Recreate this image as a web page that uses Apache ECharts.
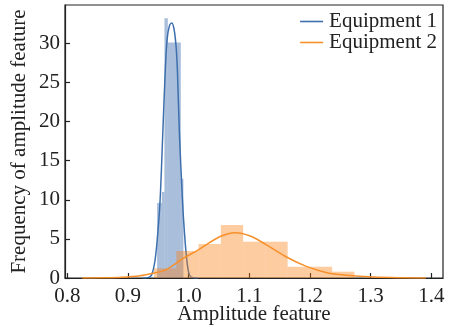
<!DOCTYPE html>
<html>
<head>
<meta charset="utf-8">
<script src="https://cdn.jsdelivr.net/npm/echarts@6/dist/echarts.min.js"></script>
<style>
  html, body { margin: 0; padding: 0; background: #fff; }
  #chart { width: 452px; height: 327px; }
</style>
</head>
<body>
<div id="chart"></div>
<script>
// Histogram bin edges and densities
const blueEdges = [0.9480, 0.9558, 0.9601, 0.9657, 0.9871, 0.9914];
const blueHeights = [9.6, 11.0, 33.2, 30.1, 12.7];
const orangeEdges = [0.943, 0.9797, 1.0164, 1.0531, 1.0898, 1.1265, 1.1632, 1.1999, 1.2366, 1.2733];
const orangeHeights = [1.24, 3.45, 4.35, 6.78, 4.64, 4.64, 1.44, 1.44, 0.81];

// Kernel density curves (x, density)
const blueKdeX = [0.925, 0.933, 0.939, 0.9447, 0.9492, 0.953, 0.9574, 0.9612, 0.9645, 0.9685, 0.9723, 0.976, 0.9794, 0.9815, 0.9848, 0.9898, 0.9931, 0.997, 1.0013, 1.007, 1.015];
const blueKdeY = [0, 0.05, 0.4, 2.3, 5.8, 10.0, 18.5, 26.0, 30.5, 32.3, 32.6, 31.8, 29.5, 26.5, 18.5, 10.0, 5.8, 2.3, 0.4, 0.05, 0];
const orangeKdeX = [0.8245, 0.86, 0.89, 0.92, 0.942, 0.961, 0.991, 1.016, 1.052, 1.0767, 1.1015, 1.129, 1.162, 1.195, 1.228, 1.261, 1.3045, 1.35, 1.391];
const orangeKdeY = [0.01, 0.03, 0.1, 0.3, 0.62, 1.0, 2.5, 3.6, 5.3, 5.8, 5.37, 4.2, 2.65, 1.45, 0.68, 0.35, 0.12, 0.03, 0.01];

// Axis ticks
const xTicks = [0.8, 0.9, 1.0, 1.1, 1.2, 1.3, 1.4];
const yTicks = [0, 5, 10, 15, 20, 25, 30];

const seriesNames = ['Equipment 1', 'Equipment 2'];

const FONT = 'Liberation Serif';
const INK = '#222';

function binData(edges, heights) {
  return heights.map((h, i) => [edges[i], edges[i + 1], h]);
}
function pairs(xs, ys) {
  return xs.map((x, i) => [x, ys[i]]);
}
function histSeries(name, data, fill, z) {
  return {
    name: name,
    type: 'custom',
    z: z,
    silent: true,
    encode: { x: [0, 1], y: 2 },
    data: data,
    renderItem: function (params, api) {
      const p0 = api.coord([api.value(0), api.value(2)]);
      const p1 = api.coord([api.value(1), 0]);
      return {
        type: 'rect',
        shape: { x: p0[0], y: p0[1], width: p1[0] - p0[0], height: p1[1] - p0[1] },
        style: { fill: fill }
      };
    }
  };
}
function kdeSeries(name, data, color, z) {
  return {
    name: name,
    type: 'line',
    z: z,
    data: data,
    smooth: 0.35,
    symbol: 'none',
    silent: true,
    lineStyle: { color: color, width: 1.5 },
    itemStyle: { color: color }
  };
}

const chart = echarts.init(document.getElementById('chart'), null, { renderer: 'canvas' });
chart.setOption({
  animation: false,
  backgroundColor: '#fff',
  textStyle: { fontFamily: FONT },
  grid: {
    left: 65, right: 9, top: 5, bottom: 49,
    outerBoundsMode: 'none',
    containLabel: false,
    show: true, borderColor: INK, borderWidth: 1.2, backgroundColor: 'transparent'
  },
  legend: {
    data: seriesNames,
    orient: 'vertical',
    right: 10, top: 6,
    itemGap: 0,
    itemWidth: 23, itemHeight: 1.6,
    icon: 'rect',
    textStyle: { fontFamily: FONT, fontSize: 21, color: INK, padding: [0, 0, 0, 1] }
  },
  xAxis: {
    type: 'value',
    min: 0.7962, max: 1.4193,
    name: 'Amplitude feature',
    nameLocation: 'middle',
    nameGap: 26,
    nameMoveOverlap: false,
    nameTextStyle: { fontFamily: FONT, fontSize: 21, color: INK },
    axisLine: { show: true, onZero: false, lineStyle: { color: INK, width: 1.2 } },
    axisTick: { show: true, inside: true, length: 5, customValues: xTicks, lineStyle: { color: INK, width: 1.2 } },
    axisLabel: {
      customValues: xTicks, margin: 8,
      fontFamily: FONT, fontSize: 21, color: INK,
      formatter: v => v.toFixed(1)
    },
    splitLine: { show: false }
  },
  yAxis: {
    type: 'value',
    min: 0, max: 34.9,
    name: 'Frequency of amplitude feature',
    nameLocation: 'middle',
    nameGap: 35,
    nameMoveOverlap: false,
    nameTextStyle: { fontFamily: FONT, fontSize: 21, color: INK },
    axisLine: { show: true, onZero: false, lineStyle: { color: INK, width: 1.2 } },
    axisTick: { show: true, inside: true, length: 5, customValues: yTicks, lineStyle: { color: INK, width: 1.2 } },
    axisLabel: {
      customValues: yTicks, margin: 5,
      fontFamily: FONT, fontSize: 21, color: INK
    },
    splitLine: { show: false }
  },
  series: [
    histSeries('Equipment 1 histogram', binData(blueEdges, blueHeights), 'rgba(40,92,165,0.4)', 1),
    kdeSeries(seriesNames[0], pairs(blueKdeX, blueKdeY), '#3d6fad', 2),
    histSeries('Equipment 2 histogram', binData(orangeEdges, orangeHeights), 'rgba(252,128,20,0.4)', 3),
    kdeSeries(seriesNames[1], pairs(orangeKdeX, orangeKdeY), '#f7902a', 4)
  ]
});
</script>
</body>
</html>
